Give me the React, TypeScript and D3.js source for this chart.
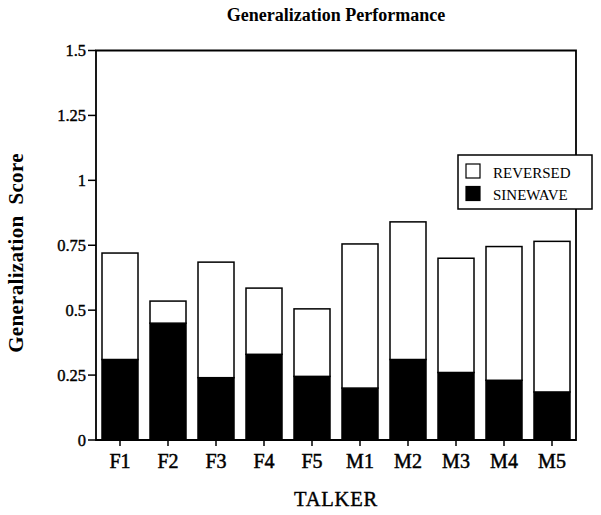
import React from "react";
import * as d3 from "d3";

const talkers = ["F1", "F2", "F3", "F4", "F5", "M1", "M2", "M3", "M4", "M5"];
const sinewave = [0.31, 0.45, 0.24, 0.33, 0.245, 0.2, 0.31, 0.26, 0.23, 0.185];
const reversed = [0.41, 0.085, 0.445, 0.255, 0.26, 0.555, 0.53, 0.44, 0.515, 0.58];
const yTicks = [0, 0.25, 0.5, 0.75, 1, 1.25, 1.5];
const yTickLabels = ["0", "0.25", "0.5", "0.75", "1", "1.25", "1.5"];
const seriesNames = ["REVERSED", "SINEWAVE"];

const W = 601;
const H = 515;
const left = 96;
const right = 576;
const top = 50.5;
const bottom = 440;
const FONT = "'Liberation Serif', 'DejaVu Serif', serif";

export default function App() {
  const x = d3.scaleBand<string>().domain(talkers).range([left, right]).paddingInner(0.25).paddingOuter(0.125);
  const y = d3.scaleLinear().domain([0, 1.5]).range([bottom, top]);

  const rows = talkers.map((t, i) => ({ talker: t, sinewave: sinewave[i], reversed: reversed[i] }));
  const stack = d3.stack<any>().keys(["sinewave", "reversed"]);
  const series = stack(rows);

  return (
    <svg width={W} height={H} style={{ position: "absolute", left: 0, top: 0, background: "#fff" }} fontFamily={FONT}>
      <rect x={0} y={0} width={W} height={H} fill="#fff" />
      <text x={336} y={21} textAnchor="middle" fontWeight="bold" fontSize={18}>
        Generalization Performance
      </text>

      {/* bars */}
      {series.map((s) =>
        s.map((d, i) => (
          <rect
            key={s.key + i}
            x={x(talkers[i])!}
            y={y(d[1])}
            width={x.bandwidth()}
            height={y(d[0]) - y(d[1])}
            fill={s.key === "sinewave" ? "#000" : "#fff"}
            stroke="#000"
            strokeWidth={1.5}
          />
        ))
      )}

      {/* frame */}
      <path d={`M${left},${bottom}V${top}H${right}V${bottom}Z`} fill="none" stroke="#000" strokeWidth={1.8} />

      {/* y ticks */}
      {yTicks.map((t, i) => (
        <g key={t}>
          <line x1={left - 8} x2={left} y1={y(t)} y2={y(t)} stroke="#000" strokeWidth={1.5} />
          <text x={left - 10} y={y(t)} dy="0.35em" textAnchor="end" fontSize={16.5} stroke="#000" strokeWidth={0.4}>
            {yTickLabels[i]}
          </text>
        </g>
      ))}

      {/* x ticks */}
      {talkers.map((t) => (
        <g key={t}>
          <line
            x1={x(t)! + x.bandwidth() / 2}
            x2={x(t)! + x.bandwidth() / 2}
            y1={bottom}
            y2={bottom + 6}
            stroke="#000"
            strokeWidth={1.5}
          />
          <text x={x(t)! + x.bandwidth() / 2} y={468} textAnchor="middle" fontSize={20} stroke="#000" strokeWidth={0.5}>
            {t}
          </text>
        </g>
      ))}

      <text x={336} y={506} textAnchor="middle" fontSize={20.5} letterSpacing={0.8} stroke="#000" strokeWidth={0.4}>
        TALKER
      </text>
      <text
        transform={`translate(23,253) rotate(-90)`}
        textAnchor="middle"
        fontWeight="bold"
        fontSize={21}
        letterSpacing={0.3}
        style={{ whiteSpace: "pre" }}
      >
        {"Generalization  Score"}
      </text>

      {/* legend */}
      <rect x={458} y={155} width={134} height={54} fill="#fff" stroke="#000" strokeWidth={1.5} />
      {seriesNames.map((n, i) => (
        <g key={n}>
          <rect
            x={466}
            y={164 + i * 22.5}
            width={14}
            height={14}
            fill={i === 0 ? "#fff" : "#000"}
            stroke="#000"
            strokeWidth={1.2}
          />
          <text x={493} y={177.5 + i * 22.5} fontSize={15}>
            {n}
          </text>
        </g>
      ))}
    </svg>
  );
}
